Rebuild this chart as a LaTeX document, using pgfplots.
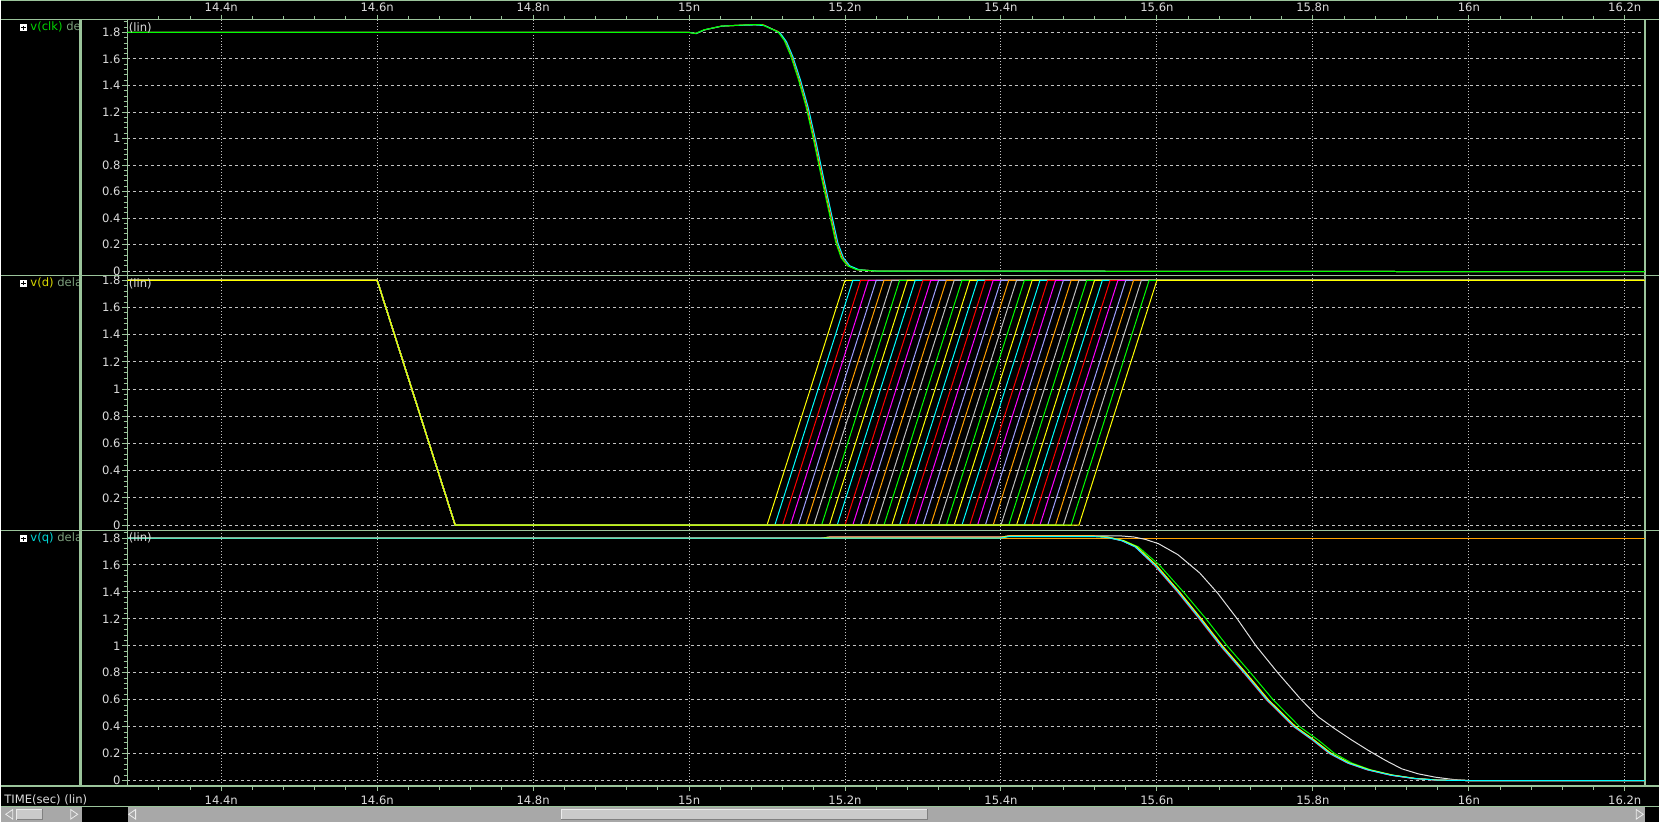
\documentclass[border=0pt]{standalone}
\usepackage{fontspec}
\setmainfont{DejaVu Sans}
\usepackage{pgfplots}
\pgfplotsset{compat=1.18}

\definecolor{framecol}{RGB}{155,196,155}
\definecolor{gridcol}{RGB}{195,195,195}
\definecolor{labcol}{RGB}{220,220,220}
\definecolor{dimcol}{RGB}{125,160,125}
\definecolor{wyel}{RGB}{255,255,0}
\definecolor{wcya}{RGB}{0,255,255}
\definecolor{wred}{RGB}{255,0,0}
\definecolor{wmag}{RGB}{255,0,255}
\definecolor{wlav}{RGB}{160,160,255}
\definecolor{wora}{RGB}{255,160,0}
\definecolor{wgry}{RGB}{190,190,190}
\definecolor{wgrn}{RGB}{0,255,0}
\definecolor{wwht}{RGB}{225,225,225}
\definecolor{sbgray}{RGB}{168,168,168}
\definecolor{sbthumb}{RGB}{202,202,202}

\newcommand{\fnt}{\fontsize{5.8pt}{7pt}\selectfont}

\pgfplotsset{
  panel/.style={
    scale only axis, width=759.5pt, anchor=south west,
    xmin=14.2796, xmax=16.2259,
    axis line style={framecol, line width=0.75pt},
    tick style={framecol, line width=0.5pt},
    tick align=outside,
    major tick length=2.5pt, minor tick length=1.8pt,
    xtick={14.4,14.6,14.8,15,15.2,15.4,15.6,15.8,16,16.2},
    ytick={0,0.2,0.4,0.6,0.8,1,1.2,1.4,1.6,1.8},
    yticklabels={0,0.2,0.4,0.6,0.8,1,1.2,1.4,1.6,1.8},
    minor ytick={0.04,0.08,0.12,0.16,0.24,0.28,0.32,0.36,0.44,0.48,0.52,0.56,0.64,0.68,0.72,0.76,0.84,0.88,0.92,0.96,1.04,1.08,1.12,1.16,1.24,1.28,1.32,1.36,1.44,1.48,1.52,1.56,1.64,1.68,1.72,1.76,1.84,1.88},
    ytick pos=left,
    grid=major,
    x grid style={gridcol, line width=0.5pt, dash pattern=on 0.5pt off 1pt},
    y grid style={gridcol, line width=0.5pt, dash pattern=on 1.5pt off 1.5pt},
    tick label style={text=labcol, font=\fnt},
    yticklabel style={inner xsep=0.75pt, inner ysep=0pt},
    every axis plot/.append style={line width=0.5pt, mark=none},
  },
  xminors/.style={
    minor xtick={14.32,14.36,14.44,14.48,14.52,14.56,14.64,14.68,14.72,14.76,14.84,14.88,14.92,14.96,15.04,15.08,15.12,15.16,15.24,15.28,15.32,15.36,15.44,15.48,15.52,15.56,15.64,15.68,15.72,15.76,15.84,15.88,15.92,15.96,16.04,16.08,16.12,16.16},
    xticklabels={14.4n,14.6n,14.8n,15n,15.2n,15.4n,15.6n,15.8n,16n,16.2n},
  },
}

\newcommand{\pbox}[1]{%
  \fill[white] (9.65pt,#1-1.75pt) rectangle (13pt,#1+1.75pt);
  \draw[black,line width=0.4pt] (10.2pt,#1)--(12.45pt,#1) (11.33pt,#1-1.1pt)--(11.33pt,#1+1.1pt);}

\begin{document}
\begin{tikzpicture}[font=\fnt]
\fill[black] (0,0) rectangle (830pt,411pt);

% ---------- v(clk) ----------
\begin{axis}[panel, xminors, at={(63.35pt,273.35pt)}, height=127.95pt,
  ymin=-0.032, ymax=1.897,
  xtick pos=right, xticklabel pos=right,
  xticklabel style={inner sep=0pt, yshift=1.3pt}]
\addplot[wyel] coordinates {(14.2796,1.8)(15.001,1.8)(15.009,1.792)(15.020,1.82)(15.042,1.848)(15.059,1.853)(15.084,1.86)(15.094,1.86)(15.102,1.838)(15.115,1.805)(15.123,1.74)(15.131,1.63)(15.141,1.45)(15.151,1.24)(15.161,0.98)(15.171,0.70)(15.181,0.43)(15.189,0.22)(15.196,0.10)(15.204,0.04)(15.216,0.01)(15.24,0.0)(16.2259,-0.005)};
\addplot[wred] coordinates {(14.2796,1.8)(15.001,1.8)(15.009,1.792)(15.020,1.82)(15.042,1.848)(15.059,1.853)(15.085,1.858)(15.096,1.856)(15.104,1.834)(15.116,1.80)(15.124,1.735)(15.132,1.625)(15.142,1.445)(15.152,1.235)(15.162,0.975)(15.172,0.695)(15.182,0.425)(15.190,0.215)(15.197,0.10)(15.205,0.04)(15.217,0.01)(15.24,0.0)(16.2259,-0.005)};
\addplot[wcya] coordinates {(14.2796,1.8)(15.001,1.8)(15.009,1.792)(15.020,1.82)(15.042,1.848)(15.059,1.853)(15.085,1.857)(15.097,1.852)(15.105,1.83)(15.117,1.795)(15.125,1.73)(15.133,1.62)(15.143,1.44)(15.153,1.23)(15.163,0.97)(15.173,0.69)(15.183,0.42)(15.191,0.21)(15.198,0.10)(15.206,0.04)(15.218,0.01)(15.24,0.0)(16.2259,-0.005)};
\addplot[wgrn] coordinates {(14.2796,1.8)(15.000,1.8)(15.008,1.792)(15.019,1.82)(15.041,1.848)(15.058,1.853)(15.083,1.86)(15.093,1.86)(15.101,1.838)(15.114,1.805)(15.122,1.74)(15.130,1.63)(15.140,1.45)(15.150,1.24)(15.160,0.98)(15.170,0.70)(15.180,0.43)(15.188,0.22)(15.195,0.10)(15.203,0.04)(15.215,0.01)(15.24,0.0)(16.2259,-0.005)};
\end{axis}

% ---------- v(d) ----------
\begin{axis}[panel, at={(63.35pt,145.65pt)}, height=127.7pt,
  ymin=-0.040, ymax=1.837,
  xtick pos=right, xticklabels={}, x tick style={draw=none}]
\addplot[wyel] coordinates {(14.2796,1.8)(14.6,1.8)(14.7,0)(15.10,0)(15.20,1.8)(16.2259,1.8)};
\addplot[wcya] coordinates {(14.2796,1.8)(14.6,1.8)(14.7,0)(15.11,0)(15.21,1.8)(16.2259,1.8)};
\addplot[wred] coordinates {(14.2796,1.8)(14.6,1.8)(14.7,0)(15.12,0)(15.22,1.8)(16.2259,1.8)};
\addplot[wmag] coordinates {(14.2796,1.8)(14.6,1.8)(14.7,0)(15.13,0)(15.23,1.8)(16.2259,1.8)};
\addplot[wlav] coordinates {(14.2796,1.8)(14.6,1.8)(14.7,0)(15.14,0)(15.24,1.8)(16.2259,1.8)};
\addplot[wora] coordinates {(14.2796,1.8)(14.6,1.8)(14.7,0)(15.15,0)(15.25,1.8)(16.2259,1.8)};
\addplot[wgry] coordinates {(14.2796,1.8)(14.6,1.8)(14.7,0)(15.16,0)(15.26,1.8)(16.2259,1.8)};
\addplot[wgrn] coordinates {(14.2796,1.8)(14.6,1.8)(14.7,0)(15.17,0)(15.27,1.8)(16.2259,1.8)};
\addplot[wyel] coordinates {(14.2796,1.8)(14.6,1.8)(14.7,0)(15.18,0)(15.28,1.8)(16.2259,1.8)};
\addplot[wcya] coordinates {(14.2796,1.8)(14.6,1.8)(14.7,0)(15.19,0)(15.29,1.8)(16.2259,1.8)};
\addplot[wred] coordinates {(14.2796,1.8)(14.6,1.8)(14.7,0)(15.20,0)(15.30,1.8)(16.2259,1.8)};
\addplot[wmag] coordinates {(14.2796,1.8)(14.6,1.8)(14.7,0)(15.21,0)(15.31,1.8)(16.2259,1.8)};
\addplot[wlav] coordinates {(14.2796,1.8)(14.6,1.8)(14.7,0)(15.22,0)(15.32,1.8)(16.2259,1.8)};
\addplot[wora] coordinates {(14.2796,1.8)(14.6,1.8)(14.7,0)(15.23,0)(15.33,1.8)(16.2259,1.8)};
\addplot[wgry] coordinates {(14.2796,1.8)(14.6,1.8)(14.7,0)(15.24,0)(15.34,1.8)(16.2259,1.8)};
\addplot[wgrn] coordinates {(14.2796,1.8)(14.6,1.8)(14.7,0)(15.25,0)(15.35,1.8)(16.2259,1.8)};
\addplot[wyel] coordinates {(14.2796,1.8)(14.6,1.8)(14.7,0)(15.26,0)(15.36,1.8)(16.2259,1.8)};
\addplot[wcya] coordinates {(14.2796,1.8)(14.6,1.8)(14.7,0)(15.27,0)(15.37,1.8)(16.2259,1.8)};
\addplot[wred] coordinates {(14.2796,1.8)(14.6,1.8)(14.7,0)(15.28,0)(15.38,1.8)(16.2259,1.8)};
\addplot[wmag] coordinates {(14.2796,1.8)(14.6,1.8)(14.7,0)(15.29,0)(15.39,1.8)(16.2259,1.8)};
\addplot[wlav] coordinates {(14.2796,1.8)(14.6,1.8)(14.7,0)(15.30,0)(15.40,1.8)(16.2259,1.8)};
\addplot[wora] coordinates {(14.2796,1.8)(14.6,1.8)(14.7,0)(15.31,0)(15.41,1.8)(16.2259,1.8)};
\addplot[wgry] coordinates {(14.2796,1.8)(14.6,1.8)(14.7,0)(15.32,0)(15.42,1.8)(16.2259,1.8)};
\addplot[wgrn] coordinates {(14.2796,1.8)(14.6,1.8)(14.7,0)(15.33,0)(15.43,1.8)(16.2259,1.8)};
\addplot[wyel] coordinates {(14.2796,1.8)(14.6,1.8)(14.7,0)(15.34,0)(15.44,1.8)(16.2259,1.8)};
\addplot[wcya] coordinates {(14.2796,1.8)(14.6,1.8)(14.7,0)(15.35,0)(15.45,1.8)(16.2259,1.8)};
\addplot[wred] coordinates {(14.2796,1.8)(14.6,1.8)(14.7,0)(15.36,0)(15.46,1.8)(16.2259,1.8)};
\addplot[wmag] coordinates {(14.2796,1.8)(14.6,1.8)(14.7,0)(15.37,0)(15.47,1.8)(16.2259,1.8)};
\addplot[wlav] coordinates {(14.2796,1.8)(14.6,1.8)(14.7,0)(15.38,0)(15.48,1.8)(16.2259,1.8)};
\addplot[wora] coordinates {(14.2796,1.8)(14.6,1.8)(14.7,0)(15.39,0)(15.49,1.8)(16.2259,1.8)};
\addplot[wgry] coordinates {(14.2796,1.8)(14.6,1.8)(14.7,0)(15.40,0)(15.50,1.8)(16.2259,1.8)};
\addplot[wgrn] coordinates {(14.2796,1.8)(14.6,1.8)(14.7,0)(15.41,0)(15.51,1.8)(16.2259,1.8)};
\addplot[wyel] coordinates {(14.2796,1.8)(14.6,1.8)(14.7,0)(15.42,0)(15.52,1.8)(16.2259,1.8)};
\addplot[wcya] coordinates {(14.2796,1.8)(14.6,1.8)(14.7,0)(15.43,0)(15.53,1.8)(16.2259,1.8)};
\addplot[wred] coordinates {(14.2796,1.8)(14.6,1.8)(14.7,0)(15.44,0)(15.54,1.8)(16.2259,1.8)};
\addplot[wmag] coordinates {(14.2796,1.8)(14.6,1.8)(14.7,0)(15.45,0)(15.55,1.8)(16.2259,1.8)};
\addplot[wlav] coordinates {(14.2796,1.8)(14.6,1.8)(14.7,0)(15.46,0)(15.56,1.8)(16.2259,1.8)};
\addplot[wora] coordinates {(14.2796,1.8)(14.6,1.8)(14.7,0)(15.47,0)(15.57,1.8)(16.2259,1.8)};
\addplot[wgry] coordinates {(14.2796,1.8)(14.6,1.8)(14.7,0)(15.48,0)(15.58,1.8)(16.2259,1.8)};
\addplot[wgrn] coordinates {(14.2796,1.8)(14.6,1.8)(14.7,0)(15.49,0)(15.59,1.8)(16.2259,1.8)};
\addplot[wyel] coordinates {(14.2796,1.8)(14.6,1.8)(14.7,0)(15.50,0)(15.60,1.8)(16.2259,1.8)};
\end{axis}

% ---------- v(q) ----------
\begin{axis}[panel, xminors, at={(63.35pt,17.7pt)}, height=127.95pt,
  ymin=-0.0415, ymax=1.856,
  xtick pos=left, xticklabel pos=left,
  xticklabel style={inner sep=0pt, yshift=-2.2pt}]
\addplot[wora] coordinates {(14.2796,1.8)(16.2259,1.8)};
\addplot[wwht] coordinates {(14.2796,1.8)(15.17,1.8)(15.18,1.806)(15.40,1.806)(15.41,1.815)(15.555,1.815)(15.57,1.808)(15.585,1.79)(15.602,1.758)(15.627,1.676)(15.655,1.54)(15.678,1.39)(15.703,1.2)(15.727,1.0)(15.755,0.8)(15.785,0.6)(15.807,0.472)(15.828,0.385)(15.85,0.30)(15.871,0.224)(15.893,0.15)(15.914,0.087)(15.935,0.05)(15.957,0.025)(15.98,0.008)(16.0,0.0)(16.2259,0)};
\addplot[wgrn] coordinates {(14.2796,1.8)(15.17,1.8)(15.18,1.806)(15.40,1.806)(15.41,1.815)(15.52,1.815)(15.537,1.808)(15.558,1.78)(15.576,1.735)(15.603,1.6)(15.634,1.4)(15.663,1.2)(15.690,1.0)(15.720,0.8)(15.749,0.6)(15.783,0.4)(15.807,0.3)(15.828,0.2)(15.85,0.13)(15.874,0.08)(15.903,0.04)(15.932,0.015)(15.962,0.003)(16.0,0)(16.2259,0)};
\addplot[wlav] coordinates {(14.2796,1.8)(15.17,1.8)(15.18,1.806)(15.40,1.806)(15.41,1.815)(15.52,1.815)(15.536,1.808)(15.556,1.78)(15.573,1.735)(15.598,1.6)(15.628,1.4)(15.656,1.2)(15.683,1.0)(15.713,0.8)(15.742,0.6)(15.777,0.4)(15.801,0.3)(15.823,0.2)(15.846,0.13)(15.871,0.08)(15.901,0.04)(15.931,0.015)(15.961,0.003)(16.0,0)(16.2259,0)};
\addplot[wred] coordinates {(14.2796,1.8)(15.17,1.8)(15.18,1.806)(15.40,1.806)(15.41,1.815)(15.52,1.815)(15.535,1.808)(15.555,1.78)(15.572,1.735)(15.596,1.6)(15.626,1.4)(15.654,1.2)(15.681,1.0)(15.711,0.8)(15.740,0.6)(15.775,0.4)(15.799,0.3)(15.821,0.2)(15.844,0.13)(15.869,0.08)(15.899,0.04)(15.929,0.015)(15.959,0.003)(16.0,0)(16.2259,0)};
\addplot[wmag] coordinates {(14.2796,1.8)(15.17,1.8)(15.18,1.806)(15.40,1.806)(15.41,1.815)(15.52,1.815)(15.535,1.808)(15.555,1.78)(15.572,1.735)(15.597,1.6)(15.627,1.4)(15.655,1.2)(15.682,1.0)(15.712,0.8)(15.741,0.6)(15.776,0.4)(15.80,0.3)(15.822,0.2)(15.845,0.13)(15.87,0.08)(15.90,0.04)(15.93,0.015)(15.96,0.003)(16.0,0)(16.2259,0)};
\addplot[wyel] coordinates {(14.2796,1.8)(15.17,1.8)(15.18,1.806)(15.40,1.806)(15.41,1.815)(15.52,1.815)(15.536,1.808)(15.557,1.78)(15.574,1.735)(15.599,1.6)(15.629,1.4)(15.657,1.2)(15.684,1.0)(15.714,0.8)(15.743,0.6)(15.778,0.4)(15.802,0.3)(15.824,0.2)(15.847,0.13)(15.872,0.08)(15.902,0.04)(15.932,0.015)(15.962,0.003)(16.0,0)(16.2259,0)};
\addplot[wcya] coordinates {(14.2796,1.8)(15.40,1.8)(15.41,1.81)(15.52,1.81)(15.535,1.805)(15.555,1.78)(15.572,1.735)(15.597,1.6)(15.627,1.4)(15.655,1.2)(15.682,1.0)(15.712,0.8)(15.741,0.6)(15.776,0.4)(15.80,0.3)(15.822,0.2)(15.845,0.13)(15.87,0.08)(15.90,0.04)(15.93,0.015)(15.96,0.003)(16.0,0)(16.2259,0)};
\end{axis}

% ---------- frame and separators ----------
\draw[framecol, line width=0.75pt] (0,410.75pt) -- (830pt,410.75pt);
\draw[framecol, line width=0.75pt] (0,401.3pt) -- (830pt,401.3pt);
\draw[framecol, line width=0.75pt] (0,273.35pt) -- (830pt,273.35pt);
\draw[framecol, line width=0.75pt] (0,145.65pt) -- (830pt,145.65pt);
\draw[framecol, line width=0.75pt] (0,17.7pt) -- (830pt,17.7pt);
\draw[framecol, line width=0.6pt] (0,7.65pt) -- (830pt,7.65pt);
\fill[framecol] (39pt,17.7pt) rectangle (40.5pt,401.3pt);

% ---------- signal names ----------
\pbox{397.25pt}
\pbox{269.35pt}
\pbox{141.5pt}
\begin{scope}
\clip (0,0) rectangle (39pt,411pt);
\node[anchor=west, inner sep=0pt] at (14.65pt,397.25pt) {\textcolor[RGB]{0,215,0}{v(clk)}\ \textcolor{dimcol}{delay}};
\node[anchor=west, inner sep=0pt] at (14.65pt,269.35pt) {\textcolor[RGB]{215,215,0}{v(d)}\ \textcolor{dimcol}{delay}};
\node[anchor=west, inner sep=0pt] at (14.65pt,141.5pt) {\textcolor[RGB]{0,215,215}{v(q)}\ \textcolor{dimcol}{delay}};
\end{scope}
\node[anchor=west, inner sep=0pt, text=labcol] at (63.9pt,397pt) {(lin)};
\node[anchor=west, inner sep=0pt, text=labcol] at (63.9pt,269pt) {(lin)};
\node[anchor=west, inner sep=0pt, text=labcol] at (63.9pt,141.85pt) {(lin)};
\node[anchor=west, inner sep=0pt, text=labcol] at (1.6pt,10.7pt) {TIME(sec) (lin)};

% ---------- scroll bars ----------
\fill[sbgray] (0,0) rectangle (40.5pt,7.25pt);
\fill[sbgray] (63.5pt,0) rectangle (823pt,7.25pt);
\fill[sbthumb] (8pt,1pt) rectangle (21pt,6.3pt);
\draw[white!85!gray, line width=0.4pt] (8pt,1pt) -- (8pt,6.3pt) -- (21pt,6.3pt);
\draw[gray, line width=0.4pt] (8pt,1pt) -- (21pt,1pt) -- (21pt,6.3pt);
\fill[sbthumb] (280.5pt,1pt) rectangle (463.5pt,6.3pt);
\draw[white!85!gray, line width=0.4pt] (280.5pt,1pt) -- (280.5pt,6.3pt) -- (463.5pt,6.3pt);
\draw[gray, line width=0.4pt] (280.5pt,1pt) -- (463.5pt,1pt) -- (463.5pt,6.3pt);
\draw[white!85!gray, line width=0.4pt] (6pt,1.2pt) -- (2.5pt,3.6pt) -- (6pt,6pt) -- cycle;
\draw[white!85!gray, line width=0.4pt] (35pt,1.2pt) -- (38.5pt,3.6pt) -- (35pt,6pt) -- cycle;
\draw[white!85!gray, line width=0.4pt] (67.5pt,1.2pt) -- (64pt,3.6pt) -- (67.5pt,6pt) -- cycle;
\draw[white!85!gray, line width=0.4pt] (818.5pt,1.2pt) -- (822pt,3.6pt) -- (818.5pt,6pt) -- cycle;
\end{tikzpicture}
\end{document}
